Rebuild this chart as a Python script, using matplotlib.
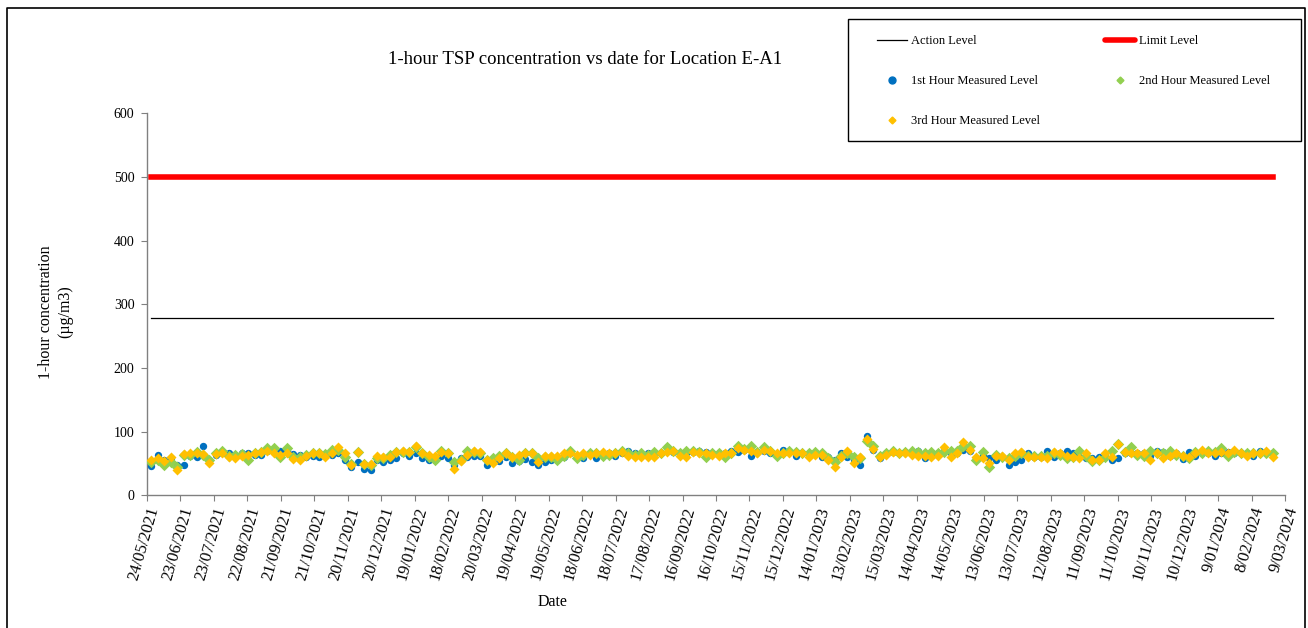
import pandas as pd
import matplotlib
matplotlib.use("Agg")
import matplotlib.pyplot as plt
from matplotlib.lines import Line2D
from matplotlib.patches import Rectangle

plt.rcParams['font.family'] = ['Liberation Serif', 'DejaVu Serif']

W, H = 1308, 628

# Readings (ug/m3), three measurements per monitoring day
first_hour = [46, 64, 55, 58, 48, 48, 62, 61, 78, 56, 63, 66, 66, 64, 66, 66, 64, 64, 69, 68,
              70, 71, 65, 63, 60, 62, 60, 62, 64, 66, 56, 44, 52, 42, 40, 55, 52, 56, 59, 66,
              62, 66, 59, 55, 55, 62, 59, 47, 59, 60, 62, 62, 48, 52, 54, 60, 51, 54, 57, 52,
              48, 52, 56, 55, 60, 66, 61, 59, 66, 58, 66, 66, 62, 66, 70, 66, 62, 66, 66, 66,
              76, 68, 66, 66, 68, 70, 68, 66, 66, 66, 69, 68, 71, 62, 68, 70, 66, 64, 71, 68,
              62, 66, 62, 66, 61, 61, 55, 66, 61, 55, 47, 94, 71, 58, 66, 68, 66, 68, 66, 69,
              59, 62, 66, 69, 66, 66, 71, 70, 58, 64, 59, 56, 60, 47, 52, 56, 66, 61, 60, 69,
              61, 66, 69, 66, 61, 59, 59, 61, 60, 55, 59, 66, 66, 66, 66, 62, 70, 68, 62, 66,
              57, 68, 62, 66, 66, 62, 66, 68, 66, 66, 66, 62, 70, 68, 66]
second_hour = [52, 56, 48, 52, 44, 64, 63, 68, 63, 55, 66, 70, 62, 64, 65, 56, 66, 68, 74, 75,
               60, 74, 61, 60, 64, 67, 66, 65, 72, 72, 61, 50, 68, 50, 48, 58, 58, 64, 68, 68,
               68, 76, 66, 60, 55, 69, 66, 52, 55, 69, 68, 67, 55, 58, 62, 66, 60, 56, 66, 66,
               58, 60, 60, 55, 62, 70, 58, 64, 66, 66, 62, 64, 66, 70, 66, 64, 66, 64, 68, 66,
               76, 70, 66, 69, 70, 68, 61, 66, 66, 60, 66, 77, 73, 78, 68, 76, 69, 62, 66, 69,
               68, 66, 66, 68, 66, 58, 52, 62, 66, 60, 58, 86, 77, 62, 66, 70, 66, 68, 70, 68,
               66, 68, 66, 68, 69, 70, 78, 77, 55, 68, 45, 64, 60, 58, 62, 66, 62, 62, 62, 62,
               66, 64, 58, 61, 69, 62, 54, 55, 60, 70, 81, 68, 76, 64, 62, 69, 66, 66, 70, 64,
               62, 58, 68, 66, 70, 68, 74, 62, 68, 66, 66, 66, 66, 66, 66]
third_hour = [56, 59, 54, 61, 40, 65, 66, 66, 65, 51, 65, 66, 60, 58, 62, 64, 66, 68, 70, 66,
              63, 66, 57, 55, 62, 66, 66, 60, 66, 76, 66, 47, 68, 50, 49, 62, 60, 60, 68, 69,
              68, 77, 66, 64, 62, 68, 66, 42, 54, 64, 70, 68, 56, 51, 58, 66, 60, 64, 66, 66,
              52, 62, 62, 62, 66, 66, 64, 66, 64, 66, 68, 66, 66, 68, 62, 61, 60, 60, 61, 66,
              68, 70, 62, 61, 68, 66, 66, 64, 62, 66, 66, 74, 71, 69, 67, 71, 69, 66, 66, 66,
              66, 66, 61, 64, 64, 55, 45, 61, 70, 51, 60, 88, 73, 60, 64, 68, 66, 66, 64, 62,
              62, 61, 62, 76, 61, 66, 84, 71, 61, 58, 51, 62, 62, 56, 66, 68, 60, 60, 60, 58,
              68, 66, 62, 60, 58, 66, 56, 55, 66, 61, 80, 68, 66, 66, 66, 55, 66, 58, 62, 66,
              62, 61, 66, 72, 66, 66, 68, 66, 72, 66, 62, 66, 66, 69, 61]
dates = pd.date_range("2021-05-28", "2024-02-27", periods=len(first_hour))

ACTION_LEVEL = 279
LIMIT_LEVEL = 500

x_start = pd.Timestamp("2021-05-24")
x_end = pd.Timestamp("2024-03-09")
tick_dates = pd.date_range(x_start, x_end, freq="30D")

BLUE = "#0070C0"
GREEN = "#92D050"
YELLOW = "#FFC000"
RED = "#FF0000"
SPINE = "#808080"


def fx(px):
    return px / W


def fy(py):
    return 1 - py / H


fig = plt.figure(figsize=(W / 100, H / 100), dpi=100)
ax = fig.add_axes([fx(147), fy(495.4), fx(1285 - 147), (495.4 - 113.3) / H])

ax.plot(dates, [ACTION_LEVEL] * len(dates), color="black", lw=0.9, zorder=2)
ax.plot(dates, [LIMIT_LEVEL] * len(dates), color=RED, lw=4, zorder=2)
ax.scatter(dates, first_hour, s=28, color=BLUE, marker="o", lw=0, zorder=3)
ax.scatter(dates, second_hour, s=34, color=GREEN, marker="D", lw=0, zorder=4)
ax.scatter(dates, third_hour, s=26, color=YELLOW, marker="D", lw=0, zorder=5)

ax.set_xlim(x_start, x_end)
ax.set_ylim(0, 600)
ax.set_yticks(range(0, 601, 100))
ax.set_xticks(tick_dates)
ax.set_xticklabels([f"{d.day}/{d.month:02d}/{d.year}" for d in tick_dates],
                   rotation=74, ha="right", va="top", rotation_mode="anchor", fontsize=12)
ax.tick_params(axis="y", labelsize=10, length=4, width=0.8, color=SPINE, pad=5)
ax.tick_params(axis="x", length=4, width=0.8, color=SPINE, pad=3)

for side in ("top", "right"):
    ax.spines[side].set_visible(False)
for side in ("left", "bottom"):
    ax.spines[side].set_color(SPINE)
    ax.spines[side].set_linewidth(1.0)

fig.text(fx(56), fy(312), "1-hour concentration\n(µg/m3)", rotation=90,
         ha="center", va="center", fontsize=11.5, linespacing=1.25)
fig.text(fx(585), fy(60), "1-hour TSP concentration vs date for Location E-A1",
         ha="center", va="center", fontsize=13.5)
fig.text(fx(553), fy(602), "Date", ha="center", va="center", fontsize=11.5)

# legend
handles = [
    Line2D([], [], color="black", lw=0.9),
    Line2D([], [], color=BLUE, marker="o", ls="none", markersize=5),
    Line2D([], [], color=YELLOW, marker="D", ls="none", markersize=3.5),
    Line2D([], [], color=RED, lw=4, solid_capstyle="round"),
    Line2D([], [], color=GREEN, marker="D", ls="none", markersize=3.5),
]
labels = ["Action Level", "1st Hour Measured Level", "3rd Hour Measured Level",
          "Limit Level", "2nd Hour Measured Level"]
fig.legend(handles, labels, ncol=2, loc="upper left", bbox_to_anchor=(fx(877), fy(35)),
           frameon=False, borderpad=0, borderaxespad=0, fontsize=9,
           handlelength=2.4, handletextpad=0.35, columnspacing=5.15, labelspacing=2.25)
fig.patches.append(Rectangle((fx(847.5), fy(141)), fx(1301 - 847.5), (141 - 19) / H,
                             transform=fig.transFigure, fill=False, ec="black", lw=1.0))

# outer chart border
fig.add_artist(Line2D([fx(7), fx(7), fx(1305), fx(1305)], [0, fy(8), fy(8), 0],
                      transform=fig.transFigure, color="black", lw=1.2))

fig.savefig("out.png", dpi=100)
